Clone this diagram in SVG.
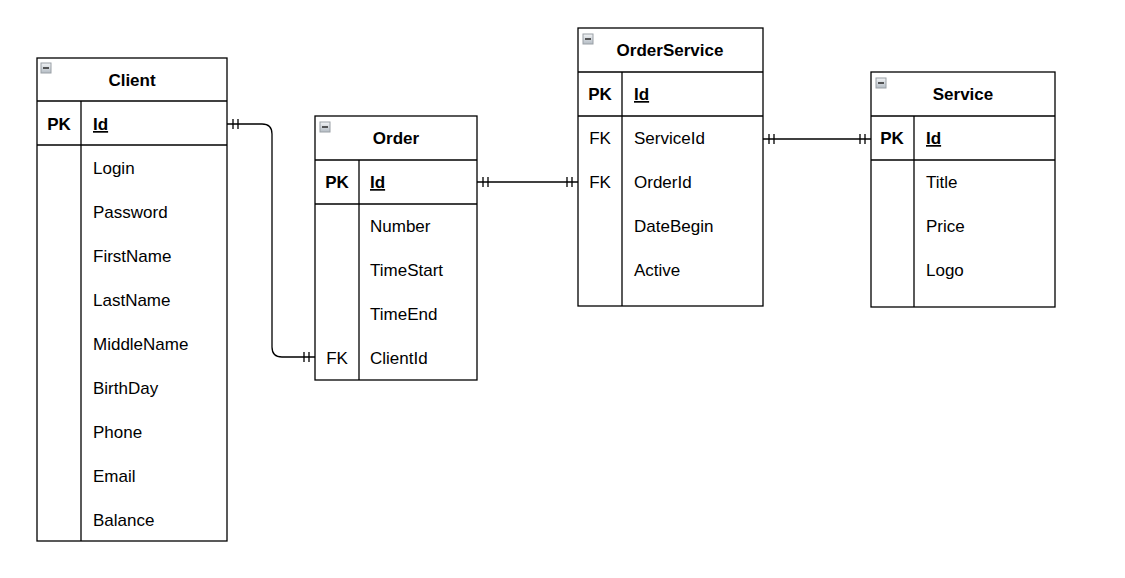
<svg xmlns="http://www.w3.org/2000/svg" width="1125" height="578" viewBox="0 0 1125 578">
<defs>
<linearGradient id="ig" x1="0" y1="0" x2="0" y2="1"><stop offset="0" stop-color="#f2f4f6"/><stop offset="1" stop-color="#b4bcc4"/></linearGradient>
<g id="icon"><rect x="0" y="0" width="10" height="10" fill="url(#ig)" stroke="#9aa0a6" stroke-width="1"/><line x1="2" y1="5" x2="8" y2="5" stroke="#333" stroke-width="1.6"/></g>
</defs>
<style>
.box{fill:#fff;stroke:#000;stroke-width:1.3}
.ln{stroke:#000;stroke-width:1.3;fill:none}
.t{font-family:"Liberation Sans",Arial,sans-serif;font-size:17px;fill:#000}
.b{font-weight:bold}
.c{text-anchor:middle}
.u{text-decoration:underline}
.con{stroke:#000;stroke-width:1.3;fill:none}
</style>
<rect width="1125" height="578" fill="#fff"/>

<g id="client">
<rect class="box" x="37" y="58" width="190" height="483"/>
<line class="ln" x1="37" y1="101" x2="227" y2="101"/>
<line class="ln" x1="37" y1="145" x2="227" y2="145"/>
<line class="ln" x1="81" y1="101" x2="81" y2="541"/>
<use href="#icon" x="41" y="63"/>
<text class="t b c" x="132" y="86">Client</text>
<text class="t b c" x="59" y="130">PK</text>
<text class="t b u" x="93" y="130">Id</text>
<text class="t" x="93" y="174">Login</text>
<text class="t" x="93" y="218">Password</text>
<text class="t" x="93" y="262">FirstName</text>
<text class="t" x="93" y="306">LastName</text>
<text class="t" x="93" y="350">MiddleName</text>
<text class="t" x="93" y="394">BirthDay</text>
<text class="t" x="93" y="438">Phone</text>
<text class="t" x="93" y="482">Email</text>
<text class="t" x="93" y="526">Balance</text>
</g>

<g id="order">
<rect class="box" x="315" y="116" width="162" height="264"/>
<line class="ln" x1="315" y1="160" x2="477" y2="160"/>
<line class="ln" x1="315" y1="204" x2="477" y2="204"/>
<line class="ln" x1="359" y1="160" x2="359" y2="380"/>
<use href="#icon" x="320" y="122"/>
<text class="t b c" x="396" y="144">Order</text>
<text class="t b c" x="337" y="188">PK</text>
<text class="t b u" x="370" y="188">Id</text>
<text class="t" x="370" y="232">Number</text>
<text class="t" x="370" y="276">TimeStart</text>
<text class="t" x="370" y="320">TimeEnd</text>
<text class="t c" x="337" y="364">FK</text>
<text class="t" x="370" y="364">ClientId</text>
</g>

<g id="orderservice">
<rect class="box" x="578" y="28" width="185" height="278"/>
<line class="ln" x1="578" y1="72" x2="763" y2="72"/>
<line class="ln" x1="578" y1="116" x2="763" y2="116"/>
<line class="ln" x1="622" y1="72" x2="622" y2="306"/>
<use href="#icon" x="583" y="34"/>
<text class="t b c" x="670" y="56">OrderService</text>
<text class="t b c" x="600" y="100">PK</text>
<text class="t b u" x="634" y="100">Id</text>
<text class="t c" x="600" y="144">FK</text>
<text class="t" x="634" y="144">ServiceId</text>
<text class="t c" x="600" y="188">FK</text>
<text class="t" x="634" y="188">OrderId</text>
<text class="t" x="634" y="232">DateBegin</text>
<text class="t" x="634" y="276">Active</text>
</g>

<g id="service">
<rect class="box" x="871" y="72" width="184" height="235"/>
<line class="ln" x1="871" y1="116" x2="1055" y2="116"/>
<line class="ln" x1="871" y1="160" x2="1055" y2="160"/>
<line class="ln" x1="914" y1="116" x2="914" y2="307"/>
<use href="#icon" x="876" y="78"/>
<text class="t b c" x="963" y="100">Service</text>
<text class="t b c" x="892" y="144">PK</text>
<text class="t b u" x="926" y="144">Id</text>
<text class="t" x="926" y="188">Title</text>
<text class="t" x="926" y="232">Price</text>
<text class="t" x="926" y="276">Logo</text>
</g>

<g id="connectors">
<path class="con" d="M227,124 H262 Q272,124 272,134 V347 Q272,357 282,357 H315"/>
<path class="con" d="M233,119 V129 M238,119 V129 M304,352 V362 M309,352 V362"/>
<path class="con" d="M477,182 H578"/>
<path class="con" d="M483,177 V187 M488,177 V187 M567,177 V187 M572,177 V187"/>
<path class="con" d="M763,139 H871"/>
<path class="con" d="M769,134 V144 M774,134 V144 M860,134 V144 M865,134 V144"/>
</g>
</svg>
